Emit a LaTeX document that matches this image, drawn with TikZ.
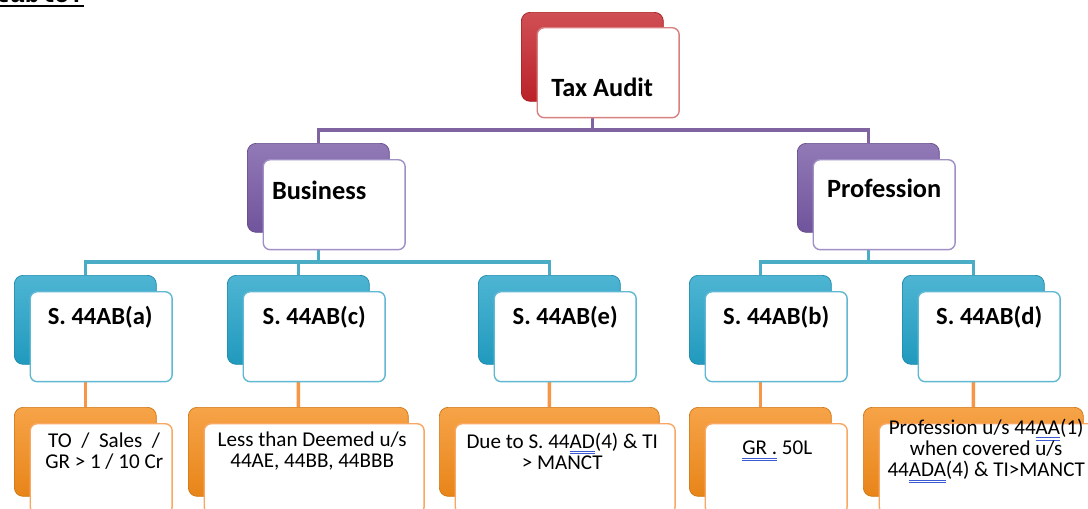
\documentclass[tikz,border=0pt]{standalone}
\usepackage{fontspec}
\setmainfont{Carlito}
\newfontfamily\tablefont{Liberation Mono}
\usepackage{xcolor}
\usetikzlibrary{backgrounds}
\definecolor{taxred}{RGB}{196,36,42}
\definecolor{taxedge}{RGB}{216,128,128}
\definecolor{grouppurple}{RGB}{118,88,164}
\definecolor{groupedge}{RGB}{160,144,198}
\definecolor{purplelink}{RGB}{128,100,162}
\definecolor{secteal}{RGB}{34,162,200}
\definecolor{secedge}{RGB}{96,184,210}
\definecolor{teallink}{RGB}{75,172,198}
\definecolor{leaforange}{RGB}{244,140,26}
\definecolor{leafedge}{RGB}{248,168,100}
\definecolor{orangelink}{RGB}{247,150,70}
\definecolor{markblue}{RGB}{60,90,210}
\newcommand{\grammarmark}[1]{\setbox0=\hbox{#1}\leavevmode\rlap{\color{markblue}\rule[-2pt]{\wd0}{0.45pt}}\rlap{\color{markblue}\rule[-3.4pt]{\wd0}{0.45pt}}\box0\relax}
\newcommand{\headrule}[1]{\setbox0=\hbox{#1}\leavevmode\rlap{\rule[-3pt]{\wd0}{1.1pt}}\box0\relax}
\tikzset{
    back-box/.style = {rectangle, rounded corners=5pt, anchor=north west, inner sep=0pt, minimum width=2.84cm, minimum height=1.78cm, top color=#1!80!white, bottom color=#1!95!black, draw=#1!85!black, thin},
    front-box/.style = {rectangle, rounded corners=4pt, anchor=north west, inner sep=0pt, minimum width=2.84cm, minimum height=1.8cm, fill=white, draw=#1, line width=0.8pt},
    wide-box/.style = {minimum width=4.4cm},
    head-text/.style = {font=\fontsize{15}{18}\selectfont\bfseries},
    sec-text/.style = {font=\fontsize{14}{17}\selectfont\bfseries},
    leaf-text/.style = {font=\fontsize{12}{12}\selectfont, align=center},
    link-line/.style = {draw=#1, line width=2pt},
}
\begin{document}
\begin{tikzpicture}[x=0.02cm, y=-0.02cm]
\useasboundingbox (0,0) rectangle (1088,508);
\clip (0,0) rectangle (1088,508);
\node[font={\tablefont\fontsize{14}{14}\selectfont\bfseries}, anchor=base west, inner sep=0pt] (table-head) at (-5,2) {\headrule{table:}};

\node[back-box=taxred] (tax) at (521,12) {};
\node[front-box=taxedge] (tax-f) at ([shift={(15.5,15)}]tax.north west) {};
\node[head-text] (tax-t) at ([shift={(-6,60)}]tax-f.north) {Tax Audit};

\node[back-box=grouppurple] (biz) at (247,143) {};
\node[front-box=groupedge] (biz-f) at ([shift={(15.5,16)}]biz.north west) {};
\node[head-text] (biz-t) at ([shift={(-15,31)}]biz-f.north) {Business};

\node[back-box=grouppurple] (prof) at (797,143) {};
\node[front-box=groupedge] (prof-f) at ([shift={(15.5,16)}]prof.north west) {};
\node[head-text] (prof-t) at ([shift={(0,29)}]prof-f.north) {Profession};

\node[back-box=secteal] (sa) at (14,275) {};
\node[front-box=secedge] (sa-f) at ([shift={(15.5,16)}]sa.north west) {};
\node[sec-text] (sa-t) at ([shift={(-1,26)}]sa-f.north) {S. 44AB(a)};

\node[back-box=secteal] (sc) at (227,275) {};
\node[front-box=secedge] (sc-f) at ([shift={(15.5,16)}]sc.north west) {};
\node[sec-text] (sc-t) at ([shift={(0,26)}]sc-f.north) {S. 44AB(c)};

\node[back-box=secteal] (se) at (478,275) {};
\node[front-box=secedge] (se-f) at ([shift={(15.5,16)}]se.north west) {};
\node[sec-text] (se-t) at ([shift={(0,26)}]se-f.north) {S. 44AB(e)};

\node[back-box=secteal] (sb) at (689,275) {};
\node[front-box=secedge] (sb-f) at ([shift={(15.5,16)}]sb.north west) {};
\node[sec-text] (sb-t) at ([shift={(0,26)}]sb-f.north) {S. 44AB(b)};

\node[back-box=secteal] (sd) at (902,275) {};
\node[front-box=secedge] (sd-f) at ([shift={(15.5,16)}]sd.north west) {};
\node[sec-text] (sd-t) at ([shift={(0,26)}]sd-f.north) {S. 44AB(d)};

\node[back-box=leaforange] (la) at (14,407) {};
\node[front-box=leafedge] (la-f) at ([shift={(15.5,16)}]la.north west) {};
\node[leaf-text] (la-t) at ([shift={(3,28)}]la-f.north) {TO\ \ /\ \ Sales\ \ /\\GR > 1 / 10 Cr};

\node[back-box=leaforange, wide-box] (lc) at (188,407) {};
\node[front-box=leafedge, wide-box] (lc-f) at ([shift={(15.5,16)}]lc.north west) {};
\node[leaf-text] (lc-t) at ([shift={(-2,28)}]lc-f.north) {Less than Deemed u/s\\44AE, 44BB, 44BBB};

\node[back-box=leaforange, wide-box] (le) at (439,407) {};
\node[front-box=leafedge, wide-box] (le-f) at ([shift={(15.5,16)}]le.north west) {};
\node[leaf-text] (le-t) at ([shift={(-3,28)}]le-f.north) {Due to S. 44\grammarmark{AD}(4) \& TI\\> MANCT};

\node[back-box=leaforange] (lb) at (689,407) {};
\node[front-box=leafedge] (lb-f) at ([shift={(15.5,16)}]lb.north west) {};
\node[leaf-text] (lb-t) at ([shift={(1,28)}]lb-f.north) {\grammarmark{GR .} 50L};

\node[back-box=leaforange, wide-box] (ld) at (863,407) {};
\node[front-box=leafedge, wide-box] (ld-f) at ([shift={(15.5,16)}]ld.north west) {};
\node[leaf-text] (ld-t) at ([shift={(-3,28)}]ld-f.north) {Profession u/s 44\grammarmark{AA}(1)\\when covered u/s\\44\grammarmark{ADA}(4) \& TI>MANCT};

\begin{scope}[on background layer]
\coordinate (bus-top) at (0,130);
\coordinate (bus-mid) at (0,262);
\draw[link-line=purplelink] (tax.center) -- (tax.center |- bus-top) -| (biz.north);
\draw[link-line=purplelink] (tax.center |- bus-top) -| (prof.north);
\draw[link-line=teallink] (biz.center) -- (biz.center |- bus-mid) -| (sa.north);
\draw[link-line=teallink] (biz.center |- bus-mid) -| (sc.north);
\draw[link-line=teallink] (biz.center |- bus-mid) -| (se.north);
\draw[link-line=teallink] (prof.center) -- (prof.center |- bus-mid) -| (sb.north);
\draw[link-line=teallink] (prof.center |- bus-mid) -| (sd.north);
\draw[link-line=orangelink] (sa.center) -- (la.north);
\draw[link-line=orangelink] (sc.center) -- (lc.north);
\draw[link-line=orangelink] (se.center) -- (le.north);
\draw[link-line=orangelink] (sb.center) -- (lb.north);
\draw[link-line=orangelink] (sd.center) -- (ld.north);
\end{scope}
\end{tikzpicture}
\end{document}
